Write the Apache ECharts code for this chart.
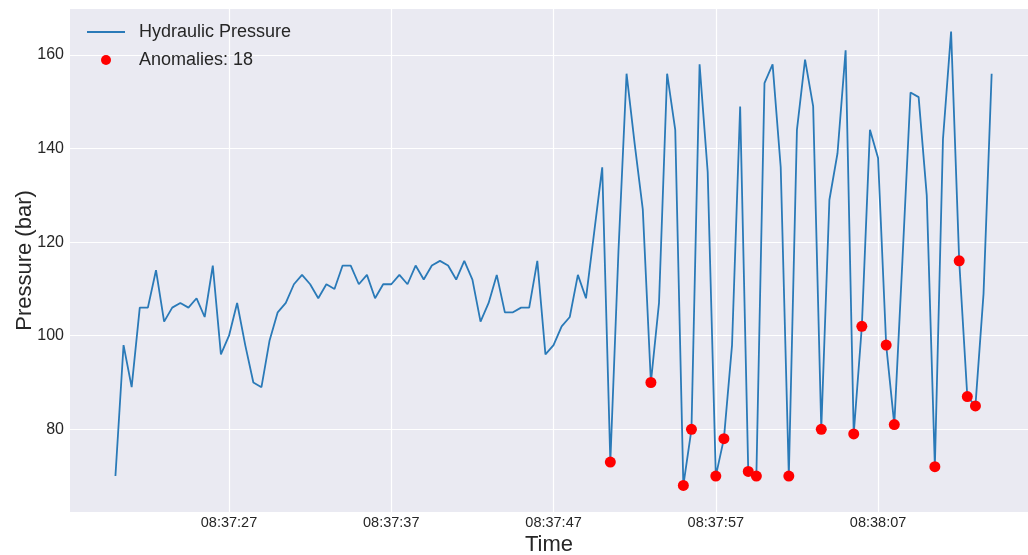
<!DOCTYPE html>
<html>
<head>
<meta charset="utf-8">
<script src="https://cdn.jsdelivr.net/npm/echarts@6/dist/echarts.min.js"></script>
<style>
html,body{margin:0;padding:0;background:#fff;}
#chart{width:1028px;height:555px;}
</style>
</head>
<body>
<div id="chart"></div>
<script>
// Sampling: start 08:37:20, one reading every 0.5 s
const startTime = '08:37:20';
const stepSeconds = 0.5;
const pressure = [
  70, 98, 89, 106, 106, 114, 103, 106, 107, 106,
  108, 104, 115, 96, 100, 107, 98, 90, 89, 99,
  105, 107, 111, 113, 111, 108, 111, 110, 115, 115,
  111, 113, 108, 111, 111, 113, 111, 115, 112, 115,
  116, 115, 112, 116, 112, 103, 107, 113, 105, 105,
  106, 106, 116, 96, 98, 102, 104, 113, 108, 122,
  136, 73, 118, 156, 141, 127, 90, 107, 156, 144,
  68, 80, 158, 135, 70, 78, 98, 149, 71, 70,
  154, 158, 136, 70, 144, 159, 149, 80, 129, 139,
  161, 79, 102, 144, 138, 98, 81, 116, 152, 151,
  130, 72, 142, 165, 116, 87, 85, 109, 156
];
const anomalyIdx = [61, 66, 70, 71, 74, 75, 78, 79, 83, 87, 91, 92, 95, 96, 101, 104, 105, 106];
const xTickLabels = ['08:37:27', '08:37:37', '08:37:47', '08:37:57', '08:38:07'];
const yTicks = [80, 100, 120, 140, 160];

function toSec(s) { const p = s.split(':').map(Number); return p[0]*3600 + p[1]*60 + p[2]; }
const base = toSec('08:37:00');
const t0 = toSec(startTime) - base;
const lineData = pressure.map((v, i) => [t0 + i * stepSeconds, v]);
const anomalyData = anomalyIdx.map(i => [t0 + i * stepSeconds, pressure[i]]);
const xTickValues = xTickLabels.map(s => toSec(s) - base);
function fmt(sec) {
  const tot = Math.round(base + sec);
  const h = Math.floor(tot / 3600), m = Math.floor((tot % 3600) / 60), s = tot % 60;
  const pad = n => String(n).padStart(2, '0');
  return pad(h) + ':' + pad(m) + ':' + pad(s);
}

const chart = echarts.init(document.getElementById('chart'), null, {renderer: 'canvas'});
const font = 'Liberation Sans, Arial, sans-serif';
chart.setOption({
  animation: false,
  backgroundColor: '#ffffff',
  grid: {left: 70, top: 9, right: 0, bottom: 43, show: true, backgroundColor: '#EAEAF2', borderWidth: 0,
         containLabel: false, outerBoundsMode: 'none'},
  legend: {
    orient: 'vertical', left: 86, top: 22, padding: 0, itemWidth: 38, itemHeight: 10, itemGap: 8,
    textStyle: {fontFamily: font, fontSize: 18, color: '#262626', lineHeight: 20, padding: [0, 0, 0, 9]},
    data: [{name: 'Hydraulic Pressure', itemStyle: {opacity: 0}}, {name: 'Anomalies: ' + anomalyIdx.length}]
  },
  xAxis: {
    type: 'value', min: 17.2, max: 76.24,
    name: 'Time', nameLocation: 'middle', nameGap: 22, nameMoveOverlap: false,
    nameTextStyle: {fontFamily: font, fontSize: 22, color: '#262626'},
    axisLine: {show: false}, axisTick: {show: false, customValues: xTickValues},
    axisLabel: {customValues: xTickValues, formatter: v => fmt(v), fontFamily: font, fontSize: 14.5, color: '#262626', margin: 3},
    splitLine: {show: true, lineStyle: {color: '#ffffff', width: 1.2}}
  },
  yAxis: {
    type: 'value', min: 62.32, max: 169.83,
    name: 'Pressure (bar)', nameLocation: 'middle', nameGap: 34, nameRotate: 90, nameMoveOverlap: false,
    nameTextStyle: {fontFamily: font, fontSize: 22, color: '#262626'},
    axisLine: {show: false}, axisTick: {show: false, customValues: yTicks},
    axisLabel: {customValues: yTicks, fontFamily: font, fontSize: 16, color: '#262626', margin: 6},
    splitLine: {show: true, lineStyle: {color: '#ffffff', width: 1.2}}
  },
  series: [
    {name: 'Hydraulic Pressure', type: 'line', data: lineData, symbol: 'none', showSymbol: false,
     lineStyle: {color: '#2a7ab8', width: 1.8}, itemStyle: {color: '#2a7ab8'}, z: 2},
    {name: 'Anomalies: ' + anomalyIdx.length, type: 'scatter', data: anomalyData, symbol: 'circle', symbolSize: 11,
     itemStyle: {color: '#ff0000', opacity: 1}, z: 3}
  ]
});
</script>
</body>
</html>
